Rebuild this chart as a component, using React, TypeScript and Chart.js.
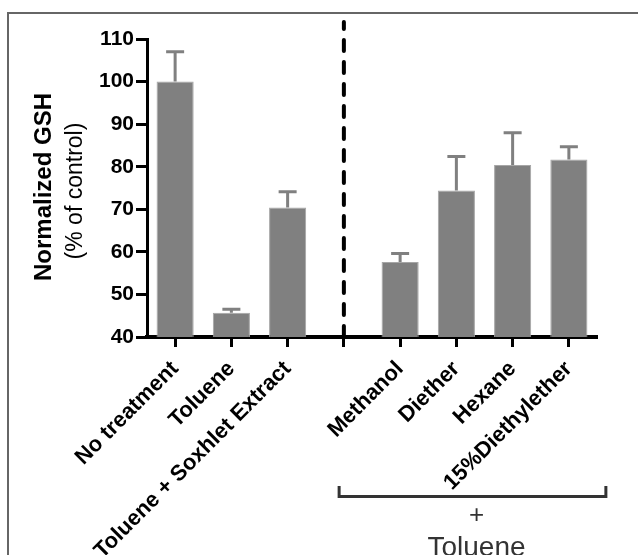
import React, { useEffect, useRef } from "react";
import { Chart, registerables } from "chart.js";

Chart.register(...registerables);

const categories = [
  "No treatment",
  "Toluene",
  "Toluene + Soxhlet Extract",
  "",
  "Methanol",
  "Diether",
  "Hexane",
  "15%Diethylether",
];
const means: (number | null)[] = [100, 45.7, 70.4, null, 57.6, 74.4, 80.4, 81.7];
const errors: (number | null)[] = [7.0, 0.8, 3.7, null, 2.0, 8.0, 7.6, 3.0];
const yTicks = [40, 50, 60, 70, 80, 90, 100, 110];
const yTitle = "Normalized GSH";
const ySubtitle = "(% of control)";
const groupSymbol = "+";
const groupLabel = "Toluene";

const FONT = "'Liberation Sans', Arial, Helvetica, sans-serif";
const BAR = "#808080";

export default function App() {
  const ref = useRef<HTMLCanvasElement | null>(null);

  useEffect(() => {
    if (!ref.current) return;

    const extras = {
      id: "extras",
      afterDatasetsDraw(chart: any) {
        const ctx = chart.ctx;
        const y = chart.scales.y;
        const meta = chart.getDatasetMeta(0);
        ctx.save();
        ctx.strokeStyle = BAR;
        ctx.lineWidth = 3;
        ctx.lineCap = "butt";
        means.forEach((m, i) => {
          const e = errors[i];
          if (m == null || e == null) return;
          const bx = meta.data[i].x;
          const y0 = y.getPixelForValue(m);
          const y1 = y.getPixelForValue(m + e);
          ctx.beginPath();
          ctx.moveTo(bx, y0);
          ctx.lineTo(bx, y1);
          ctx.moveTo(bx - 9, y1);
          ctx.lineTo(bx + 9, y1);
          ctx.stroke();
        });
        ctx.restore();
      },
      afterDraw(chart: any) {
        const ctx = chart.ctx;
        const x = chart.scales.x;
        const area = chart.chartArea;
        ctx.save();
        const sx = x.getPixelForValue(3);
        ctx.strokeStyle = "#000";
        ctx.lineWidth = 4;
        ctx.lineCap = "round";
        ctx.setLineDash([11, 11]);
        ctx.beginPath();
        ctx.moveTo(sx, area.bottom);
        ctx.lineTo(sx, area.top - 17);
        ctx.stroke();
        ctx.setLineDash([]);
        ctx.lineCap = "butt";

        const bl = x.getPixelForValue(4) - 61;
        const br = x.getPixelForValue(7) + 37;
        ctx.strokeStyle = "#333";
        ctx.lineWidth = 3;
        ctx.beginPath();
        ctx.moveTo(bl, 486);
        ctx.lineTo(bl, 496.5);
        ctx.lineTo(br, 496.5);
        ctx.lineTo(br, 486);
        ctx.stroke();

        const cx = (bl + br) / 2 + 4;
        ctx.fillStyle = "#333";
        ctx.textAlign = "center";
        ctx.textBaseline = "middle";
        ctx.font = `26px ${FONT}`;
        ctx.fillText(groupSymbol, cx, 516);
        ctx.textBaseline = "alphabetic";
        ctx.font = `28px ${FONT}`;
        ctx.fillText(groupLabel, cx, 556);

        const cy = (area.top + area.bottom) / 2;
        ctx.fillStyle = "#000";
        ctx.translate(44, cy - 1);
        ctx.rotate(-Math.PI / 2);
        ctx.font = `bold 24px ${FONT}`;
        ctx.textBaseline = "middle";
        ctx.fillText(yTitle, 0, 0);
        ctx.restore();
        ctx.save();
        ctx.translate(76, cy + 3);
        ctx.rotate(-Math.PI / 2);
        ctx.fillStyle = "#000";
        ctx.font = `23px ${FONT}`;
        ctx.textAlign = "center";
        ctx.textBaseline = "middle";
        ctx.fillText(ySubtitle, 0, 0);
        ctx.restore();
      },
    };

    const chart = new Chart(ref.current, {
      type: "bar",
      data: {
        labels: categories,
        datasets: [
          {
            data: means,
            backgroundColor: BAR,
            borderColor: "#a6a6a6",
            borderWidth: 1,
            borderSkipped: "bottom",
            barPercentage: 0.66,
            categoryPercentage: 1,
          },
        ],
      },
      options: {
        responsive: false,
        animation: false,
        layout: { padding: { top: 39, right: 41, left: 0, bottom: 0 } },
        plugins: {
          legend: { display: false },
          tooltip: { enabled: false },
        },
        scales: {
          x: {
            offset: true,
            grid: {
              display: true,
              drawOnChartArea: false,
              offset: false,
              tickLength: 10,
              tickWidth: 3,
              tickColor: "#000",
            },
            border: { display: true, color: "#000", width: 4 },
            ticks: {
              autoSkip: false,
              minRotation: 45,
              maxRotation: 45,
              padding: 9,
              color: "#000",
              font: { family: FONT, size: 22, weight: "bold" },
            },
            afterFit(s: any) {
              s.height = 555 - 337;
              s.paddingLeft = 0;
              s.paddingRight = 0;
            },
          },
          y: {
            min: 40,
            max: 110,
            afterBuildTicks(s: any) {
              s.ticks = yTicks.map((v) => ({ value: v }));
            },
            grid: {
              display: true,
              drawOnChartArea: false,
              tickLength: 11,
              tickWidth: 3,
              tickColor: "#000",
            },
            border: { display: true, color: "#000", width: 3 },
            ticks: {
              padding: 2,
              color: "#000",
              font: { family: FONT, size: 21, weight: "bold" },
            },
            afterFit(s: any) {
              s.width = 147;
              s.paddingTop = 0;
              s.paddingBottom = 0;
            },
          },
        },
      },
      plugins: [extras],
    });
    return () => chart.destroy();
  }, []);

  return (
    <div style={{ position: "fixed", left: 0, top: 0, width: 638, height: 555, overflow: "hidden", background: "#fff" }}>
      <div
        style={{
          position: "absolute",
          left: 7,
          top: 12,
          width: 700,
          height: 700,
          border: "2px solid #666",
          boxSizing: "border-box",
        }}
      />
      <canvas ref={ref} width={638} height={555} style={{ position: "absolute", left: 0, top: 0 }} />
    </div>
  );
}
